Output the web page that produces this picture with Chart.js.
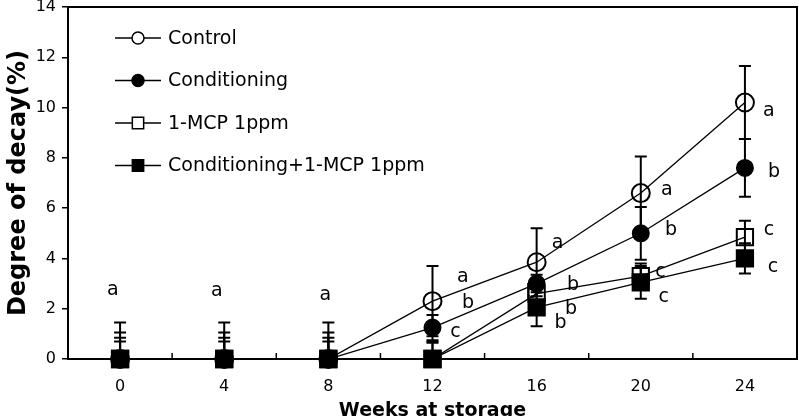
<!DOCTYPE html>
<html>
<head>
<meta charset="utf-8">
<script src="https://cdn.jsdelivr.net/npm/chart.js@4.4.1/dist/chart.umd.min.js"></script>
<style>
  html, body { margin: 0; background: #fff; }
  canvas { display: block; }
</style>
</head>
<body>
<canvas id="chart" width="799" height="416"></canvas>
<script>
const weeks = ["0", "4", "8", "12", "16", "20", "24"];

const control = [0, 0, 0, 2.3, 3.85, 6.6, 10.2];
const controlErr = [1.45, 1.45, 1.45, 1.4, 1.35, 1.45, 1.45];

const conditioning = [0, 0, 0, 1.25, 3.0, 5.0, 7.6];
const conditioningErr = [1.05, 1.05, 1.05, 0.5, 0.35, 1.05, 1.15];

const mcp = [0, 0, 0, 0, 2.6, 3.3, 4.85];
const mcpErr = [0.85, 0.85, 0.85, 0.7, 0.4, 0.5, 0.65];

const condMcp = [0, 0, 0, 0, 2.05, 3.05, 4.0];
const condMcpErr = [0.7, 0.7, 0.7, 0.65, 0.75, 0.65, 0.6];

// significance letters: category index (fractional) and value
const letterX = [-0.07, 0.93, 1.97, 3.29, 3.34, 3.22, 4.2, 4.35, 3.95, 4.33, 4.23, 5.25, 5.29, 5.19, 5.22, 6.23, 6.28, 6.23, 6.27];
const letterY = [2.75, 2.7, 2.55, 3.26, 2.23, 1.07, 4.6, 2.94, 2.62, 1.98, 1.43, 6.72, 5.13, 3.46, 2.47, 9.86, 7.44, 5.13, 3.66];
const letterText = ["a", "a", "a", "a", "b", "c", "a", "b", "b", "b", "b", "a", "b", "c", "c", "a", "b", "c", "c"];

const errors = [controlErr, conditioningErr, mcpErr, condMcpErr];

const series = (label, data, style, radius, filled) => ({
  label,
  data,
  borderColor: "#000",
  borderWidth: 1.3,
  pointStyle: style,
  pointRadius: radius,
  pointHoverRadius: radius,
  pointBorderWidth: 2,
  pointBorderColor: "#000",
  pointBackgroundColor: filled ? "#000" : "rgba(0,0,0,0)",
  tension: 0,
  clip: false,
});

const frame = {
  id: "frame",
  beforeDatasetsDraw(chart) {
    const { ctx, chartArea: a, scales } = chart;
    ctx.save();
    ctx.strokeStyle = "#000";
    ctx.lineWidth = 2;
    ctx.strokeRect(a.left, a.top, a.right - a.left, a.bottom - a.top);
    // x ticks between categories, pointing inward
    ctx.lineWidth = 1.5;
    for (let i = 0; i < weeks.length - 1; i++) {
      const x = scales.x.getPixelForValue(i + 0.5);
      ctx.beginPath();
      ctx.moveTo(x, a.bottom);
      ctx.lineTo(x, a.bottom - 6);
      ctx.stroke();
    }
    // error bars
    ctx.beginPath();
    ctx.rect(a.left, a.top - 2, a.right - a.left, a.bottom - a.top + 2);
    ctx.clip();
    ctx.lineWidth = 2;
    chart.data.datasets.forEach((ds, d) => {
      ds.data.forEach((v, i) => {
        const e = errors[d][i];
        const x = scales.x.getPixelForValue(i);
        const y1 = scales.y.getPixelForValue(v + e);
        const y2 = scales.y.getPixelForValue(v - e);
        ctx.beginPath();
        ctx.moveTo(x, y1);
        ctx.lineTo(x, y2);
        ctx.moveTo(x - 6, y1);
        ctx.lineTo(x + 6, y1);
        ctx.moveTo(x - 6, y2);
        ctx.lineTo(x + 6, y2);
        ctx.stroke();
      });
    });
    ctx.restore();
  },
  afterDatasetsDraw(chart) {
    const { ctx, chartArea: a, scales } = chart;
    ctx.save();
    ctx.fillStyle = "#000";
    ctx.font = "19px 'DejaVu Sans'";
    ctx.textAlign = "center";
    ctx.textBaseline = "middle";
    letterText.forEach((t, i) => {
      ctx.fillText(t, scales.x.getPixelForValue(letterX[i]), scales.y.getPixelForValue(letterY[i]));
    });
    // legend
    ctx.textAlign = "left";
    chart.data.datasets.forEach((ds, i) => {
      const y = a.top + 31 + i * 42.5;
      const x0 = a.left + 47;
      ctx.strokeStyle = "#000";
      ctx.lineWidth = 1.5;
      ctx.beginPath();
      ctx.moveTo(x0, y);
      ctx.lineTo(x0 + 46, y);
      ctx.stroke();
      ctx.fillStyle = ds.pointBackgroundColor === "#000" ? "#000" : "#fff";
      Chart.helpers.drawPoint(ctx, {
        pointStyle: ds.pointStyle,
        radius: ds.pointStyle === "rect" ? 8 : 6,
        rotation: 0,
        borderWidth: 1.5,
      }, x0 + 23, y);
      ctx.fillStyle = "#000";
      ctx.fillText(ds.label, a.left + 100, y + 1);
    });
    ctx.restore();
  },
};

new Chart(document.getElementById("chart"), {
  type: "line",
  data: {
    labels: weeks,
    datasets: [
      series("Control", control, "circle", 9, false),
      series("Conditioning", conditioning, "circle", 8, true),
      series("1-MCP 1ppm", mcp, "rect", 11.5, false),
      series("Conditioning+1-MCP 1ppm", condMcp, "rect", 11.5, true),
    ],
  },
  plugins: [frame],
  options: {
    responsive: false,
    animation: false,
    events: [],
    layout: { autoPadding: false, padding: { top: 7, right: 2, left: 0, bottom: 0 } },
    plugins: {
      legend: { display: false },
      tooltip: { enabled: false },
    },
    scales: {
      x: {
        offset: true,
        grid: { display: false },
        border: { display: true, color: "#000", width: 2 },
        ticks: { color: "#000", font: { family: "DejaVu Sans", size: 16 }, padding: 10, maxRotation: 0 },
        title: {
          display: true,
          text: "Weeks at storage",
          color: "#000",
          font: { family: "DejaVu Sans", size: 19, weight: "bold" },
          padding: { top: 0, bottom: -6 },
        },
        afterFit(scale) {
          scale.height = 57;
          scale.paddingLeft = 0;
          scale.paddingRight = 0;
        },
      },
      y: {
        min: 0,
        max: 14,
        ticks: { stepSize: 2, color: "#000", font: { family: "DejaVu Sans", size: 16 }, padding: 6 },
        grid: { drawOnChartArea: false, drawTicks: true, tickLength: 6, color: "#000", lineWidth: 1.5 },
        border: { display: true, color: "#000", width: 2 },
        title: {
          display: true,
          text: "Degree of decay(%)",
          color: "#000",
          font: { family: "DejaVu Sans", size: 24, weight: "bold" },
          padding: { top: 4, bottom: 0 },
        },
        afterFit(scale) {
          scale.width = 68;
          scale.paddingTop = 0;
          scale.paddingBottom = 0;
        },
      },
    },
  },
});
</script>
</body>
</html>
